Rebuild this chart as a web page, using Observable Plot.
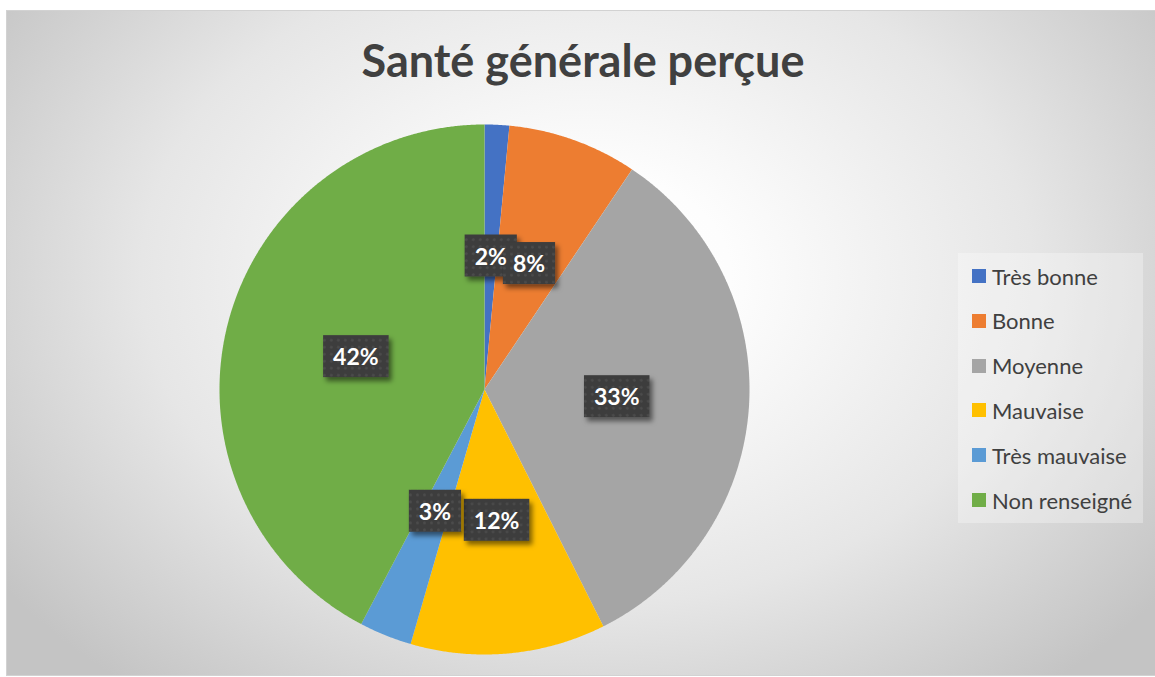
<!DOCTYPE html>
<html><head><meta charset="utf-8">
<script src="https://cdn.jsdelivr.net/npm/d3@7"></script>
<script src="https://cdn.jsdelivr.net/npm/@observablehq/plot@0.6"></script>
<style>
body{margin:0;width:1155px;height:677px;overflow:hidden;background:#fff;position:relative;font-family:Lato,"Open Sans",sans-serif}
#frame{position:absolute;left:6px;top:10px;width:1160px;height:664px;border:1px solid #d2d2d2;
 background:radial-gradient(ellipse 62% 80% at 50% 40%, #ffffff 0%, #fdfdfd 20%, #e6e6e6 62%, #c4c4c4 100%)}
#chart{position:absolute;left:0;top:0}
#title{position:absolute;left:583px;top:34px;transform:translateX(-50%);white-space:nowrap;font-weight:700;font-size:45px;line-height:52px;color:#404040}
#legend{position:absolute;left:958px;top:253px;width:185px;height:270px;background:rgba(255,255,255,0.3)}
.item{position:absolute;left:14px;height:26px;display:flex;align-items:center;font-size:22px;color:#404040;white-space:nowrap}
.sw{width:14px;height:14px;margin-right:6px;flex:none}
</style></head>
<body>
<div id="frame"></div>
<div id="chart"></div>
<div id="title">Santé générale perçue</div>
<div id="legend"></div>
<script>
const categories = ["Très bonne","Bonne","Moyenne","Mauvaise","Très mauvaise","Non renseigné"];
const values = [1.5, 7.9, 33.2, 11.9, 3.2, 42.3];
const labels = ["2%","8%","33%","12%","3%","42%"];
const colors = ["#4472C4","#ED7D31","#A5A5A5","#FFC000","#5B9BD5","#70AD47"];

const total = d3.sum(values);
const slicePts = [];
const labelPts = [];
let cum = 0;
values.forEach((v, i) => {
  const a0 = cum / total * 2 * Math.PI;
  cum += v;
  const a1 = cum / total * 2 * Math.PI;
  slicePts.push({cat: categories[i], x: 0, y: 0});
  const n = Math.max(2, Math.ceil((a1 - a0) / 0.005));
  for (let k = 0; k <= n; k++) {
    const t = a0 + (a1 - a0) * k / n;
    slicePts.push({cat: categories[i], x: Math.sin(t), y: Math.cos(t)});
  }
  const m = (a0 + a1) / 2;
  labelPts.push({cat: categories[i], label: labels[i], x: 0.5 * Math.sin(m), y: 0.5 * Math.cos(m)});
});

const W = 1155, H = 677, cx = 484, cy = 389, R = 265;
const plot = Plot.plot({
  width: W, height: H, margin: 0,
  x: {domain: [-cx / R, (W - cx) / R], axis: null},
  y: {domain: [-(H - cy) / R, cy / R], axis: null},
  color: {domain: categories, range: colors},
  style: {background: "transparent", overflow: "visible"},
  marks: [
    Plot.line(slicePts, {x: "x", y: "y", z: "cat", fill: "cat", stroke: "none", curve: "linear-closed"}),
    Plot.text(labelPts, {x: "x", y: "y", text: "label", fill: "white", fontSize: 23, fontWeight: 700, fontFamily: "Lato, 'Open Sans', sans-serif", ariaDescription: "pct"})
  ]
});
document.getElementById("chart").appendChild(plot);

// label boxes
const ns = "http://www.w3.org/2000/svg";
const defs = document.createElementNS(ns, "defs");
defs.innerHTML = `
<pattern id="dots" width="7" height="7" patternUnits="userSpaceOnUse">
  <rect width="7" height="7" fill="#3d3d3d"/>
  <circle cx="3.5" cy="3.5" r="1.3" fill="#4e4e4e"/>
</pattern>
<filter id="shadow" x="-30%" y="-30%" width="160%" height="170%">
  <feDropShadow dx="3" dy="4" stdDeviation="2.5" flood-color="#000" flood-opacity="0.5"/>
</filter>`;
plot.insertBefore(defs, plot.firstChild);
let g = plot.querySelector('g[aria-description="pct"]');
if (!g) g = plot.querySelector('g[aria-label="text"]');
const texts = Array.from(g.querySelectorAll("text"));
const first = texts[0];
texts.forEach(t => {
  const b = t.getBBox();
  const r = document.createElementNS(ns, "rect");
  const px = 10, py = 9;
  r.setAttribute("x", b.x - px);
  r.setAttribute("y", b.y - py + 2);
  r.setAttribute("width", b.width + 2 * px);
  r.setAttribute("height", b.height + 2 * py - 4);
  r.setAttribute("fill", "url(#dots)");
  r.setAttribute("filter", "url(#shadow)");
  const tr = t.getAttribute("transform");
  if (tr) r.setAttribute("transform", tr);
  first.parentNode.insertBefore(r, first);
});

// legend
const leg = document.getElementById("legend");
categories.forEach((c, i) => {
  const it = document.createElement("div");
  it.className = "item";
  it.style.top = (276 - 253 - 13 + i * 44.8) + "px";
  it.innerHTML = `<span class="sw" style="background:${colors[i]}"></span><span>${c}</span>`;
  leg.appendChild(it);
});
</script>
</body></html>
